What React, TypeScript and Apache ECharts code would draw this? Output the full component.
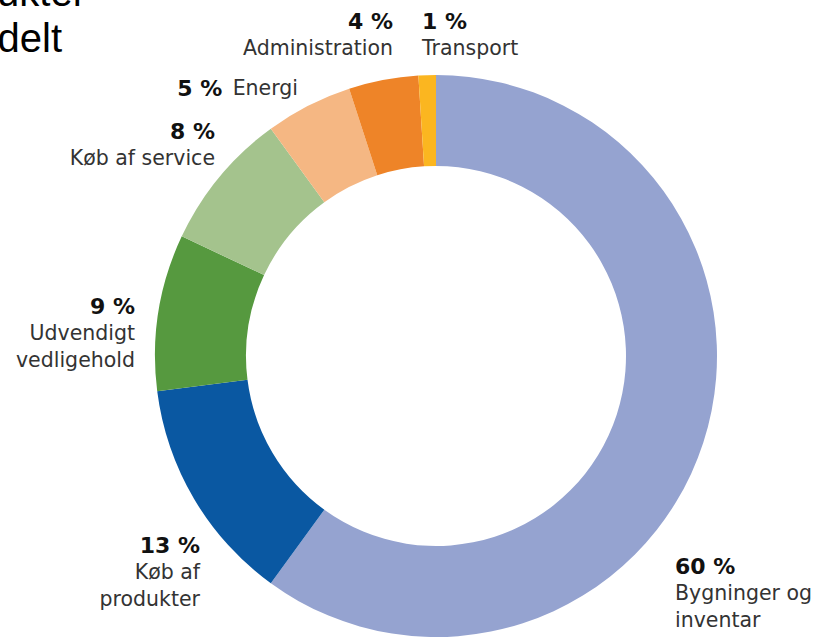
import React, { useEffect, useRef } from "react";
import * as echarts from "echarts";

const categories = [
  "Bygninger og inventar",
  "Køb af produkter",
  "Udvendigt vedligehold",
  "Køb af service",
  "Energi",
  "Administration",
  "Transport",
];
const values = [60, 13, 9, 8, 5, 4, 1];
const colors = ["#95A3D0", "#0A58A2", "#56993F", "#A4C38D", "#F5B783", "#EE8428", "#FBB620"];
// label text lines (name broken as in the original)
const labelLines = [
  ["Bygninger og", "inventar"],
  ["Køb af", "produkter"],
  ["Udvendigt", "vedligehold"],
  ["Køb af service"],
  ["Energi"],
  ["Administration"],
  ["Transport"],
];
const headerLines = ["produkter", "fordelt"];

// label anchor layout: [x, firstLineCenterY, align, inline]
const labelLayout: [number, number, "left" | "right", boolean][] = [
  [675, 566, "left", false],
  [200, 545, "right", false],
  [135, 306, "right", false],
  [215, 131, "right", false],
  [298, 88, "right", true],
  [393, 21, "right", false],
  [422, 21, "left", false],
];

export default function App() {
  const ref = useRef<HTMLDivElement>(null);
  useEffect(() => {
    if (!ref.current) return;
    const chart = echarts.init(ref.current, undefined, { renderer: "svg" });
    const font = "'DejaVu Sans', Verdana, sans-serif";
    const nameSize = 20.5;
    const pctSize = 22;
    const lh = 27;
    const graphics: any[] = [];
    headerLines.forEach((t, i) => {
      graphics.push({
        type: "text",
        x: i === 0 ? 86 : 62,
        y: i === 0 ? 12 : 58,
        style: {
          text: t,
          font: "40px 'Liberation Sans', Arial, sans-serif",
          fill: "#000",
          align: "right",
          verticalAlign: "bottom",
        },
      });
    });
    values.forEach((v, i) => {
      const [x, y, align, inline] = labelLayout[i];
      if (inline) {
        graphics.push({
          type: "text",
          x,
          y,
          style: {
            text: `{p|${v} %} {n|${labelLines[i][0]}}`,
            align,
            verticalAlign: "middle",
            rich: {
              p: { fontFamily: font, fontWeight: "bold", fontSize: pctSize, fill: "#111", padding: [0, 7, 0, 0] },
              n: { fontFamily: font, fontSize: nameSize, fill: "#333" },
            },
          },
        });
        return;
      }
      graphics.push({
        type: "text",
        x,
        y,
        style: {
          text: `${v} %`,
          font: `bold ${pctSize}px ${font}`,
          fill: "#111",
          align,
          verticalAlign: "middle",
        },
      });
      labelLines[i].forEach((ln, j) => {
        graphics.push({
          type: "text",
          x,
          y: y + lh * (j + 1),
          style: {
            text: ln,
            font: `${nameSize}px ${font}`,
            fill: "#333",
            align,
            verticalAlign: "middle",
          },
        });
      });
    });
    chart.setOption({
      animation: false,
      backgroundColor: "#fff",
      series: [
        {
          type: "pie",
          center: [436, 356],
          radius: [190, 281],
          startAngle: 90,
          clockwise: true,
          label: { show: false },
          labelLine: { show: false },
          silent: true,
          itemStyle: { borderWidth: 0 },
          data: categories.map((c, i) => ({
            name: c,
            value: values[i],
            itemStyle: { color: colors[i] },
          })),
        },
      ],
      graphic: graphics,
    });
    return () => chart.dispose();
  }, []);
  return (
    <div
      ref={ref}
      style={{ position: "fixed", left: 0, top: 0, width: 822, height: 641 }}
    />
  );
}
